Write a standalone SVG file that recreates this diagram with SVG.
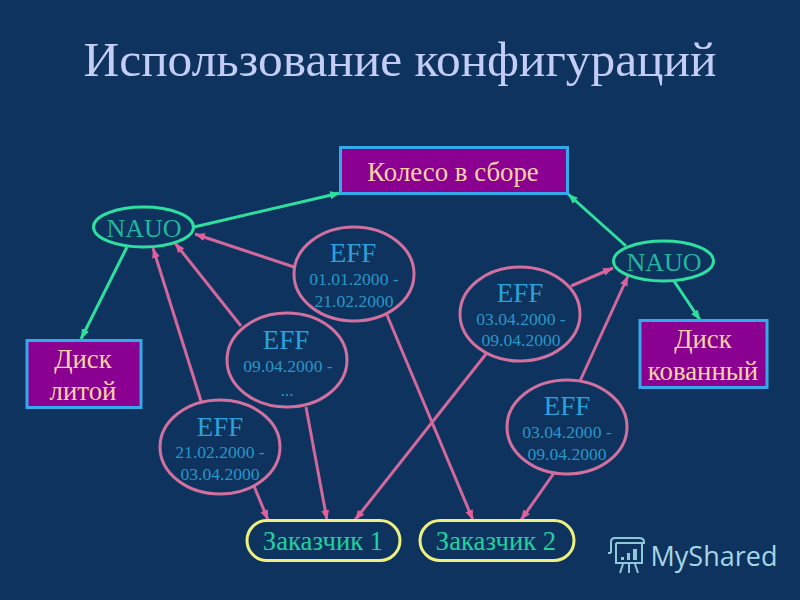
<svg xmlns="http://www.w3.org/2000/svg" width="800" height="600" viewBox="0 0 800 600">
<defs>
<marker id="ag" markerUnits="userSpaceOnUse" markerWidth="11" markerHeight="10" refX="10" refY="5" orient="auto"><path d="M0 1L10 5L0 9Z" fill="#2ee0a0"/></marker>
<marker id="ap" markerUnits="userSpaceOnUse" markerWidth="11" markerHeight="10" refX="10" refY="5" orient="auto"><path d="M0 1L10 5L0 9Z" fill="#e0609c"/></marker>
</defs>
<style>
text{font-family:"Liberation Serif","Times New Roman",serif;text-anchor:middle}
.t{font-size:49.400px;fill:#c4cdf6}
.box{fill:#8a0090;stroke:#35a9ea;stroke-width:3}
.bt{font-size:26.800px;fill:#fbd2a6}
.na{fill:none;stroke:#2ee0a0;stroke-width:3}
.nt{font-size:26px;fill:#22b5a0}
.ef{fill:none;stroke:#d2719f;stroke-width:3}
.e1{font-size:27px;fill:#2aa3dc}
.e2{font-size:17.600px;fill:#2a96c8}
.cu{fill:none;stroke:#eef080;stroke-width:3}
.ct{font-size:26.700px;fill:#22d0a0}
.g{fill:none;stroke:#2ee0a0;stroke-width:3;marker-end:url(#ag)}
.p{fill:none;stroke:#d2689c;stroke-width:3;marker-end:url(#ap)}
.w{fill:none;stroke:#8fc8d8;stroke-width:2}
</style>
<rect width="800" height="600" fill="#0e335e"/>
<text class="t" x="400" y="76">Использование конфигураций</text>
<g id="connectors">
<path class="g" d="M194 227L340 193"/>
<path class="g" d="M127 247L81 339"/>
<path class="g" d="M626 246L568 194"/>
<path class="g" d="M674 281L700 320"/>
<path class="p" d="M294 267L195 234"/>
<path class="p" d="M241 326L175 243"/>
<path class="p" d="M201 401L153 248"/>
<path class="p" d="M254 486L268 520"/>
<path class="p" d="M306 407L327 520"/>
<path class="p" d="M486 354L355 520"/>
<path class="p" d="M387 315L473 520"/>
<path class="p" d="M554 473L521 520"/>
<path class="p" d="M571 286L613 268"/>
<path class="p" d="M580 381L628 276"/>
</g>
<g id="wheel"><rect class="box" x="340.500" y="147.500" width="227" height="46"/><text class="bt" x="453" y="181">Колесо в сборе</text></g>
<g id="nauo-left"><ellipse class="na" cx="143.500" cy="227" rx="50" ry="20"/><text class="nt" x="144" y="237">NAUO</text></g>
<g id="nauo-right"><ellipse class="na" cx="663.500" cy="261" rx="50" ry="20"/><text class="nt" x="664" y="271">NAUO</text></g>
<g id="disk-cast"><rect class="box" x="27" y="340.500" width="114" height="67"/><text class="bt" x="83" y="368">Диск</text><text class="bt" x="83" y="400">литой</text></g>
<g id="disk-forged"><rect class="box" x="640" y="320.500" width="127" height="67"/><text class="bt" x="703" y="348">Диск</text><text class="bt" x="703" y="380">кованный</text></g>
<g id="eff-1"><ellipse class="ef" cx="354" cy="274" rx="60" ry="47"/><text class="e1" x="353" y="262">EFF</text><text class="e2" x="354" y="285">01.01.2000 -</text><text class="e2" x="354" y="307">21.02.2000</text></g>
<g id="eff-2"><ellipse class="ef" cx="287" cy="360" rx="60" ry="47"/><text class="e1" x="286" y="349">EFF</text><text class="e2" x="288" y="372">09.04.2000 -</text><text class="e2" x="287" y="396">...</text></g>
<g id="eff-3"><ellipse class="ef" cx="220" cy="447" rx="60" ry="47"/><text class="e1" x="220" y="436">EFF</text><text class="e2" x="220" y="458">21.02.2000 -</text><text class="e2" x="220" y="480">03.04.2000</text></g>
<g id="eff-4"><ellipse class="ef" cx="520" cy="314" rx="60" ry="47"/><text class="e1" x="520" y="302">EFF</text><text class="e2" x="521" y="325">03.04.2000 -</text><text class="e2" x="521" y="346">09.04.2000</text></g>
<g id="eff-5"><ellipse class="ef" cx="567" cy="427" rx="60" ry="47"/><text class="e1" x="567" y="415">EFF</text><text class="e2" x="567" y="438">03.04.2000 -</text><text class="e2" x="567" y="460">09.04.2000</text></g>
<g id="customer-1"><rect class="cu" x="247" y="520.500" width="153" height="40" rx="20"/><text class="ct" x="323" y="550">Заказчик 1</text></g>
<g id="customer-2"><rect class="cu" x="420" y="520.500" width="154" height="40" rx="20"/><text class="ct" x="496" y="550">Заказчик 2</text></g>
<g id="logo">
<path class="w" d="M615 538H639Q644 538 644 542V543H616M615 538Q611 538 611 542V553M611 553H608M616 543V563H642V543M623 564L620 573M629 564V573M635 564L638 573"/>
<rect x="621" y="557" width="3" height="3" fill="#8fc8d8"/><rect x="627" y="553" width="3" height="7" fill="#8fc8d8"/><rect x="633" y="549" width="4" height="11" fill="#8fc8d8"/>
<text x="714" y="566" style="font-family:'Open Sans','DejaVu Sans',sans-serif;font-size:27px;fill:#a5d6e4">MyShared</text>
</g>
</svg>
